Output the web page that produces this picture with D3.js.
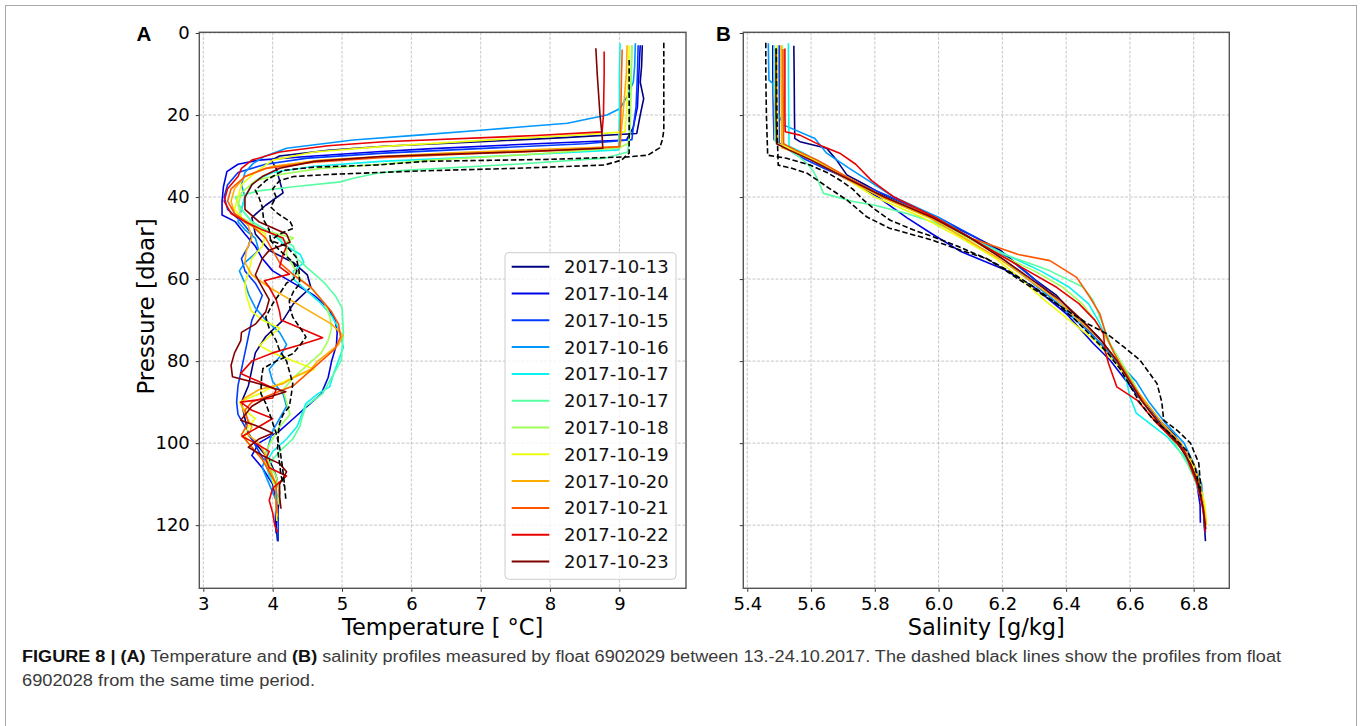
<!DOCTYPE html>
<html><head><meta charset="utf-8">
<script src="https://cdn.jsdelivr.net/npm/d3@7"></script>
<style>body{margin:0;background:#fff;} svg{display:block;}</style>
</head><body><svg id="fig" width="1360" height="726"></svg>
<script>
const dates = ["2017-10-13","2017-10-14","2017-10-15","2017-10-16","2017-10-17","2017-10-17","2017-10-18","2017-10-19","2017-10-20","2017-10-21","2017-10-22","2017-10-23"];
const lineColors = ["#000080","#0000e9","#003aff","#0097ff","#0bf4ec","#56ffa1","#a1ff56","#ecff0b","#ffad00","#ff5700","#e90000","#800000"];
const tempTicks = [3,4,5,6,7,8,9];
const salTicks = [5.4,5.6,5.8,6.0,6.2,6.4,6.6,6.8];
const presTicks = [0,20,40,60,80,100,120];

// Temperature profiles, float 6902029: [pressure dbar, temperature °C]
const temp1013 = [[3,9.33],[8,9.32],[12,9.3],[16,9.35],[20,9.3],[24.5,9.25],[25.5,8.2],[26.5,7.0],[27.6,5.6],[28.6,4.8],[30,4.1],[31,3.98],[33,4.05],[36,4.1],[39,4.15],[42,3.9],[45,3.7],[49,3.75],[53,3.95],[56,4.3],[59,4.5],[62,4.55],[66,4.3],[70,4.15],[74,3.9],[78,3.75],[82,3.7],[86,3.65],[90,3.55],[94,3.6],[98,3.65],[101,3.8],[104,3.95],[108,4.05],[112,4.1],[116,4.08],[120,4.05],[123.9,4.07]];
const temp1014 = [[3,9.3],[10,9.28],[18,9.26],[23,9.2],[26.1,9.1],[27,7.8],[28.2,6.3],[28.9,5.56],[30,4.6],[31,3.8],[32,3.5],[33.8,3.34],[37.5,3.29],[41,3.27],[44.4,3.27],[46,3.46],[49,3.6],[52,3.75],[55,3.85],[58,4.0],[61,4.3],[64,4.6],[67,4.8],[70,4.9],[73,4.93],[76,4.92],[80,4.85],[84,4.8],[88,4.7],[91,4.5],[94,4.3],[97,4.1],[100,3.8],[103,3.7],[106,3.85],[110,4.0],[114,4.05],[118,4.04],[122,4.05]];
const temp1015 = [[3,9.27],[10,9.26],[18,9.24],[23,9.2],[26,9.18],[27,8.5],[28,7.2],[29.3,5.6],[30.5,4.5],[32,3.9],[34,3.5],[37,3.35],[40,3.3],[43,3.35],[46,3.55],[49,3.7],[52,3.65],[55,3.55],[58,3.6],[61,3.75],[64,3.85],[67,3.78],[70,3.7],[74,3.65],[78,3.6],[82,3.55],[86,3.5],[90,3.48],[93,3.5],[96,3.6],[99,3.7],[102,3.8],[105,3.9],[109,4.0],[113,4.05],[117,4.08],[121,4.08],[124,4.08]];
const temp1016 = [[2.5,9.23],[8,9.22],[12,9.2],[15.5,9.11],[18.4,9.01],[20,8.82],[22,8.25],[23.7,7.0],[24.9,6.1],[26.1,5.16],[28.1,4.2],[30.2,3.87],[31.8,3.72],[34,3.6],[37,3.55],[40,3.6],[43,3.55],[46,3.5],[48,3.6],[50,3.75],[53,3.8],[56,3.6],[58,3.52],[61,3.6],[64,3.66],[67,3.75],[70,3.9],[73,4.1],[76,4.2],[79,4.1],[82,3.95],[85,4.0],[88,4.15],[91,4.2],[94,4.1],[97,4.0],[100,3.95],[103,3.9],[106,3.85],[110,3.95],[114,4.05],[117,4.05]];
const temp1017a = [[2.5,9.01],[10,9.0],[20,9.0],[26,8.99],[28.5,8.99],[29.8,7.5],[31.3,5.56],[32.5,4.6],[34,4.0],[35.5,3.8],[37,3.7],[40,3.6],[43,3.55],[46,3.7],[49,4.0],[52,4.2],[54,4.4],[56,4.45],[58,4.3],[60,4.3],[63,4.5],[66,4.7],[69,4.85],[72,4.95],[76.6,5.02],[79.8,4.95],[83,4.88],[86.3,4.82],[88,4.65],[90.3,4.48],[93,4.42],[96,4.35],[99,4.2],[102,4.0],[105,3.9],[108,3.95],[111,4.05],[114,4.08]];
const temp1017b = [[3,9.18],[10,9.17],[20,9.15],[26,9.14],[29,9.12],[30.5,8.8],[32,7.5],[33.5,5.9],[34.2,5.5],[35.5,5.15],[36.3,4.98],[37.5,4.3],[38.5,3.8],[40,3.46],[43,3.55],[46,3.7],[48,3.9],[50,4.1],[52,4.3],[55,4.35],[58,4.55],[61,4.75],[64,4.9],[67,5.0],[70,5.01],[73,5.02],[77,5.0],[79.8,4.99],[84,4.85],[87.9,4.72],[91,4.48],[94,4.42],[96,4.39],[99,4.29],[102,4.1],[105,3.95],[108,4.0],[111,4.05],[114,4.05]];
const temp1018 = [[3,9.18],[10,9.17],[20,9.16],[25,9.15],[27,9.12],[28,9.0],[29.5,7.8],[31,6.3],[32,5.56],[33,4.7],[34.5,4.1],[36,3.75],[39,3.55],[42,3.5],[45,3.55],[48,3.85],[50,4.3],[51,4.2],[54,4.2],[57,4.3],[60,4.4],[63,4.6],[66,4.75],[69,4.82],[72,4.85],[75,4.8],[78,4.7],[81,4.5],[84,4.3],[87,4.15],[90,4.2],[93,4.25],[96,4.1],[99,4.0],[102,3.9],[105,3.95],[108,4.05],[112,4.1],[115,4.08]];
const temp1019 = [[3,9.14],[10,9.13],[20,9.1],[24.1,9.08],[25,8.3],[26,7.2],[27.7,5.56],[29,4.6],[31,4.0],[34,3.75],[37,3.55],[40,3.5],[43,3.45],[46,3.6],[49,3.9],[52,3.85],[55,3.7],[58,3.66],[61,3.6],[64,3.62],[67.7,3.69],[70,3.85],[72,4.1],[74,3.95],[76.2,3.81],[78,4.0],[80,4.3],[82,4.6],[84,4.3],[85.5,4.1],[88,3.8],[90,3.52],[92,3.6],[94,3.75],[96,3.65],[98,3.6],[100,3.65],[103,3.8],[106,3.95],[109,4.0],[112,4.05],[116,4.05],[119,4.06]];
const temp1020 = [[3,9.11],[10,9.1],[20,9.05],[25,9.02],[27.7,9.01],[28.3,8.0],[29.3,6.5],[30.1,5.56],[31,4.7],[32.5,4.0],[35,3.6],[38,3.45],[41,3.4],[44,3.45],[47,3.65],[50,3.7],[53,3.62],[56,3.6],[59,3.7],[62,3.95],[65,4.25],[68,4.55],[71,4.85],[73.7,5.01],[76,4.95],[78,4.8],[80,4.65],[82,4.55],[84,4.3],[85.5,4.15],[87,3.8],[89,3.6],[90.3,3.54],[93,3.6],[96,3.7],[98,3.65],[100,3.8],[103,3.9],[106,3.95],[110,4.05],[114,4.05],[118,4.07]];
const temp1021 = [[4,9.04],[10,9.03],[20,9.02],[25,9.01],[27.7,9.0],[28.5,8.3],[29.5,6.8],[30.4,5.56],[31.5,4.6],[33,3.9],[35,3.6],[38,3.4],[41,3.35],[44,3.45],[47,3.7],[50,3.9],[53,4.0],[56,4.1],[59,4.3],[62,4.55],[65,4.7],[68,4.85],[71,4.95],[74,4.98],[77,4.9],[80,4.7],[83,4.5],[86,4.3],[88,4.0],[90,3.7],[92,3.6],[95,3.65],[98,3.55],[101,3.7],[104,3.85],[107,3.95],[110,4.05],[114,4.05],[117,4.06]];
const temp1022 = [[4.5,8.78],[10,8.78],[20,8.77],[24.1,8.75],[25,7.8],[26.5,5.6],[27.5,4.8],[29,4.1],[31,3.7],[33,3.55],[35,3.5],[38,3.35],[41,3.3],[44,3.4],[46,3.6],[48,3.85],[50,4.15],[52,4.2],[54,4.15],[57,4.1],[58.8,4.24],[60.4,3.88],[62,3.95],[65,4.05],[68,4.1],[70,4.12],[72,4.4],[74.3,4.72],[76,4.4],[78,4.0],[80,3.7],[83,3.54],[85,3.8],[87,4.05],[89,4.0],[90,3.54],[92,3.7],[94,4.0],[96,3.8],[98.4,3.56],[100,3.75],[102,3.95],[104,3.9],[106,3.95],[108,4.2],[111,4.0],[114,3.95],[117,4.0],[120,4.03],[121.8,4.07]];
const temp1023 = [[3.7,8.66],[10,8.68],[20,8.72],[25,8.75],[28.1,8.76],[29,7.5],[30.1,5.56],[31.3,4.6],[33,4.1],[35,3.85],[37,3.7],[40,3.6],[43,3.6],[46,3.8],[49,4.2],[51,4.25],[53,3.95],[55,3.85],[57,3.8],[59,3.75],[62,3.85],[65,3.95],[68,3.9],[71,3.75],[73,3.55],[75,3.54],[78,3.45],[81,3.4],[83.8,3.42],[85.5,3.8],[87.5,4.19],[89,3.9],[91,3.7],[94.4,3.54],[96,3.8],[97.6,4.0],[99,3.8],[101,3.65],[103,3.85],[105,4.1],[107,4.2],[110,4.1],[113,4.1],[116,4.12]];
// Temperature profiles, float 6902028 (dashed black)
const tempRefA = [[2.4,9.64],[10,9.64],[20,9.64],[23.7,9.64],[26,9.62],[28,9.58],[29.8,9.41],[30.2,9.12],[30.8,8.0],[31.3,6.2],[32.2,5.5],[32.7,4.6],[33.5,4.15],[35,4.0],[36,3.9],[38.3,3.75],[40,3.8],[42.4,3.85],[45.6,3.87],[48,3.95],[50.6,3.97],[52,4.2],[54.7,4.34],[58,4.38],[61.2,4.39],[63,4.3],[65.3,4.24],[67,4.25],[69.3,4.29],[72,4.4],[74.1,4.48],[76,4.4],[78.2,4.29],[80,4.05],[81.8,3.86],[84,3.84],[87.9,3.83],[90.3,3.9],[94,3.98],[97.6,4.05],[101,4.1],[105.7,4.14],[110,4.17],[113.8,4.19]];
const tempRefB = [[6.6,9.14],[15,9.14],[25,9.14],[29.3,9.14],[31,9.03],[32.2,8.78],[33,7.5],[33.6,6.2],[34,5.56],[34.5,4.8],[35,4.3],[36,4.1],[38,4.0],[40,4.05],[42.4,3.97],[44,4.07],[46,4.25],[47.6,4.3],[49,4.1],[50.6,3.97],[53,4.1],[56,4.3],[58,4.35],[60,4.3],[61,4.2],[63.6,4.1],[66,4.0],[69.3,3.9],[72,3.95],[75,4.05],[77.4,4.1],[80,4.2],[83,4.25],[85.5,4.29],[88,4.27],[91.1,4.24],[93,4.15],[95.2,4.1],[98,4.08],[101.6,4.07],[105,4.1],[108,4.12],[110.5,4.17]];

// Salinity profiles, float 6902029: [pressure dbar, salinity g/kg]
const sal1013 = [[3.1,5.546],[10,5.547],[20,5.548],[25.7,5.549],[26.5,5.565],[28.1,5.649],[31,5.68],[34.6,5.712],[37,5.77],[39.9,5.837],[43,5.93],[47.2,6.046],[50,6.12],[52.9,6.192],[56,6.24],[60,6.3],[64,6.37],[69,6.43],[74,6.5],[80,6.56],[86,6.6],[92,6.66],[98,6.74],[104,6.79],[110,6.815],[116,6.83],[123.9,6.837]];
const sal1014 = [[3,5.48],[10,5.48],[20,5.482],[26,5.484],[28,5.52],[30,5.58],[33,5.65],[36,5.72],[40,5.81],[45,5.9],[49,5.98],[53.3,6.07],[57.8,6.21],[62,6.3],[68.4,6.4],[75.7,6.485],[79.8,6.538],[86,6.6],[92,6.665],[98,6.73],[104,6.785],[110,6.81],[115,6.82],[119.4,6.821]];
const sal1015 = [[3,5.5],[10,5.5],[20,5.5],[27,5.5],[28.5,5.53],[30,5.56],[33,5.64],[36,5.73],[40,5.85],[45,6.0],[50,6.12],[55,6.22],[60,6.3],[65,6.37],[70,6.44],[75,6.5],[80,6.555],[85,6.6],[90,6.645],[95,6.7],[100,6.755],[105,6.795],[110,6.815],[116,6.83],[122,6.835]];
const sal1016 = [[2.5,5.466],[8,5.467],[11.5,5.468],[12.3,5.48],[18,5.487],[22.4,5.513],[25.7,5.612],[29.3,5.649],[33,5.72],[36,5.78],[40,5.86],[45,6.0],[50,6.1],[55,6.2],[60,6.28],[65,6.36],[70,6.43],[75,6.5],[80,6.56],[85,6.62],[90,6.66],[95,6.71],[100,6.77],[105,6.8],[110,6.825],[117,6.832]];
const sal1017a = [[2.5,5.529],[10,5.529],[20,5.53],[27.6,5.531],[29,5.57],[32,5.64],[36,5.73],[40,5.83],[45,5.99],[50,6.1],[54,6.21],[58,6.32],[62,6.41],[66,6.47],[70,6.5],[75,6.53],[80,6.565],[85,6.59],[88.7,6.6],[92.7,6.62],[98.4,6.716],[103.2,6.77],[108,6.8],[114,6.825],[117,6.83]];
const sal1017b = [[3,5.484],[10,5.484],[20,5.485],[26.1,5.486],[27,5.495],[28,5.52],[30,5.56],[32,5.59],[33.8,5.608],[36.5,5.625],[39.1,5.639],[41.1,5.732],[42,5.8],[44,5.9],[46,5.98],[49,6.07],[52,6.15],[53.9,6.202],[56,6.28],[58,6.349],[62,6.454],[65.3,6.485],[69.3,6.506],[72,6.52],[75.8,6.538],[80,6.57],[84,6.6],[88,6.63],[92,6.66],[96,6.7],[100,6.74],[105,6.78],[110,6.81],[115,6.83],[118,6.838]];
const sal1018 = [[3,5.51],[10,5.51],[20,5.51],[27,5.51],[28.5,5.54],[31,5.61],[35,5.7],[40,5.82],[45,5.97],[50,6.09],[54,6.19],[58,6.3],[62,6.39],[66,6.45],[70,6.49],[75,6.53],[80,6.57],[85,6.61],[90,6.64],[95,6.69],[100,6.75],[105,6.79],[110,6.815],[115,6.83],[120,6.84]];
const sal1019 = [[3,5.494],[10,5.494],[20,5.495],[27,5.496],[28.5,5.54],[31,5.61],[35,5.7],[40,5.8],[45,5.95],[50,6.07],[55,6.18],[60,6.26],[65,6.33],[70,6.41],[75,6.49],[80,6.55],[85,6.6],[90,6.64],[95,6.69],[100,6.75],[105,6.795],[110,6.82],[115,6.835],[119,6.84]];
const sal1020 = [[3,5.506],[10,5.506],[20,5.507],[28,5.508],[29,5.55],[32,5.63],[36,5.72],[40,5.82],[45,5.97],[50,6.08],[55,6.19],[60,6.28],[65,6.37],[70,6.44],[75,6.51],[80,6.56],[85,6.6],[90,6.65],[95,6.7],[100,6.76],[105,6.8],[110,6.82],[115,6.83],[120,6.84]];
const sal1021 = [[3.9,5.512],[10,5.512],[20,5.513],[27,5.514],[28.5,5.55],[31,5.62],[35,5.71],[40,5.83],[45,5.99],[50,6.1],[54,6.25],[55.5,6.349],[59.6,6.433],[64.5,6.475],[68.5,6.506],[74.1,6.527],[78,6.55],[82,6.58],[87,6.62],[92,6.66],[97,6.71],[102,6.77],[107,6.8],[112,6.82],[117,6.83]];
const sal1022 = [[3.8,5.518],[10,5.518],[20,5.518],[24.1,5.519],[24.9,5.565],[27.7,5.638],[29.3,5.69],[32,5.74],[36,5.79],[40,5.86],[45,5.99],[50,6.1],[54,6.19],[58,6.28],[62,6.37],[66,6.44],[70,6.49],[73.3,6.517],[77.4,6.522],[80.6,6.533],[86.3,6.559],[89.5,6.622],[95.2,6.685],[101.7,6.769],[109.8,6.81],[116,6.83],[121.8,6.837]];
const sal1023 = [[3.7,5.49],[10,5.49],[20,5.49],[27,5.492],[28.5,5.53],[31,5.6],[35,5.7],[40,5.83],[45,5.98],[50,6.1],[55,6.2],[60,6.29],[65,6.38],[70,6.45],[75,6.51],[80,6.56],[85,6.6],[90,6.64],[95,6.69],[100,6.75],[105,6.79],[110,6.815],[116,6.83],[121,6.838]];
// Salinity profiles, float 6902028 (dashed black)
const salRefA = [[2.4,5.458],[10,5.458],[20,5.46],[29.8,5.464],[30.5,5.52],[32.2,5.597],[34,5.65],[35.9,5.691],[38,5.73],[40.7,5.764],[43,5.8],[45.6,5.847],[48,5.92],[49.7,5.983],[52,6.06],[55,6.15],[57,6.192],[60,6.25],[64,6.33],[68,6.41],[71,6.47],[73.3,6.527],[76.5,6.58],[79.8,6.632],[85.5,6.685],[90,6.7],[94.4,6.706],[97,6.75],[100,6.79],[104.9,6.816],[109.7,6.821],[113,6.822]];
const salRefB = [[3.8,5.491],[15,5.492],[25,5.494],[32.2,5.497],[33,5.54],[34.2,5.588],[37.5,5.65],[40.7,5.712],[44.8,5.774],[47.6,5.846],[50.5,5.98],[53,6.07],[55,6.15],[58,6.22],[62,6.3],[66,6.37],[70,6.43],[74,6.48],[78,6.53],[82,6.57],[86,6.6],[90,6.63],[94,6.67],[98,6.73],[102,6.78],[106,6.805],[110,6.815],[112,6.82]];

const tempProfiles = [temp1013,temp1014,temp1015,temp1016,temp1017a,temp1017b,temp1018,temp1019,temp1020,temp1021,temp1022,temp1023];
const salProfiles = [sal1013,sal1014,sal1015,sal1016,sal1017a,sal1017b,sal1018,sal1019,sal1020,sal1021,sal1022,sal1023];
const tempRefs = [tempRefA,tempRefB];
const salRefs = [salRefA,salRefB];

const svg = d3.select("#fig");
const FONT = "'DejaVu Sans', sans-serif";

svg.append("rect").attr("x",5.5).attr("y",5.5).attr("width",1351).attr("height",740)
  .attr("fill","none").attr("stroke","#a8a8a8").attr("stroke-width",1);

const yP = d3.scaleLinear().domain([-0.17,135.4]).range([32.3,588.3]);
const xT = d3.scaleLinear().domain([2.942,9.96]).range([199.3,686]);
const xS = d3.scaleLinear().domain([5.3875,6.9117]).range([743.3,1229.3]);

function drawPanel(id, xs, xticks, fmt, profiles, refs, showY, xlabel, letter, letterX) {
  const g = svg.append("g");
  const [x0,x1] = xs.range(), [y0,y1] = yP.range();
  g.append("clipPath").attr("id","clip"+id).append("rect")
    .attr("x",x0).attr("y",y0).attr("width",x1-x0).attr("height",y1-y0);
  // grid
  g.append("g").selectAll("line").data(xticks).join("line")
    .attr("x1",d=>xs(d)).attr("x2",d=>xs(d)).attr("y1",y0).attr("y2",y1)
    .attr("stroke","#b8b8b8").attr("stroke-width",0.8).attr("stroke-dasharray","3,1.6");
  g.append("g").selectAll("line").data(presTicks).join("line")
    .attr("y1",d=>yP(d)).attr("y2",d=>yP(d)).attr("x1",x0).attr("x2",x1)
    .attr("stroke","#b8b8b8").attr("stroke-width",0.8).attr("stroke-dasharray","3,1.6");
  const line = d3.line().x(d=>xs(d[1])).y(d=>yP(d[0]));
  const lg = g.append("g").attr("clip-path","url(#clip"+id+")");
  lg.selectAll("path.prof").data(profiles).join("path").attr("class","prof")
    .attr("d",line).attr("fill","none").attr("stroke",(d,i)=>lineColors[i])
    .attr("stroke-width",1.6).attr("stroke-linejoin","round");
  lg.selectAll("path.ref").data(refs).join("path").attr("class","ref")
    .attr("d",line).attr("fill","none").attr("stroke","#000")
    .attr("stroke-width",1.6).attr("stroke-dasharray","5.5,2.6");
  // axes
  const ax = g.append("g").attr("transform",`translate(0,${y1})`)
    .call(d3.axisBottom(xs).tickValues(xticks).tickFormat(fmt).tickSize(3.5).tickPadding(5));
  const ay = g.append("g").attr("transform",`translate(${x0},0)`)
    .call(d3.axisLeft(yP).tickValues(presTicks).tickFormat(showY ? d3.format("d") : ()=>"").tickSize(3.5).tickPadding(6));
  [ax,ay].forEach(a=>{
    a.select(".domain").remove();
    a.selectAll("line").attr("stroke","#333").attr("stroke-width",1);
    a.selectAll("text").attr("font-family",FONT).attr("font-size",18).attr("fill","#000");
  });
  g.append("rect").attr("x",x0).attr("y",y0).attr("width",x1-x0).attr("height",y1-y0)
    .attr("fill","none").attr("stroke","#555").attr("stroke-width",1.4);
  g.append("text").attr("x",(x0+x1)/2).attr("y",634.5).attr("text-anchor","middle")
    .attr("font-family",FONT).attr("font-size",22.5).attr("fill","#000").text(xlabel);
  g.append("text").attr("x",letterX).attr("y",40.7).attr("font-family","'Liberation Sans', Arial, sans-serif")
    .attr("font-weight","bold").attr("font-size",20.5).attr("fill","#000").text(letter);
}

drawPanel("A", xT, tempTicks, d3.format("d"), tempProfiles, tempRefs, true, "Temperature [ \u00B0C]", "A", 136.5);
drawPanel("B", xS, salTicks, d3.format(".1f"), salProfiles, salRefs, false, "Salinity [g/kg]", "B", 716);

svg.append("text").attr("transform","translate(154,306.5) rotate(-90)").attr("text-anchor","middle")
  .attr("font-family",FONT).attr("font-size",23).attr("fill","#000").text("Pressure [dbar]");

// legend
const leg = svg.append("g");
leg.append("rect").attr("x",505).attr("y",252.7).attr("width",171).attr("height",326.6).attr("rx",4)
  .attr("fill","#fff").attr("fill-opacity",0.8).attr("stroke","#cccccc").attr("stroke-width",1);
const rows = leg.selectAll("g.row").data(dates).join("g").attr("class","row")
  .attr("transform",(d,i)=>`translate(0,${266.7 + i*26.8})`);
rows.append("line").attr("x1",511.7).attr("x2",549.3).attr("y1",0).attr("y2",0)
  .attr("stroke",(d,i)=>lineColors[i]).attr("stroke-width",2);
rows.append("text").attr("x",564).attr("y",0).attr("dy","0.36em")
  .attr("font-family",FONT).attr("font-size",18).attr("fill","#111").text(d=>d);

// caption
const CAP = "'Liberation Sans Narrow', 'Liberation Sans', Arial, sans-serif";
const c1 = svg.append("text").attr("x",22).attr("y",662).attr("font-family",CAP).attr("font-size",16)
  .attr("fill","#3a3a3a").attr("textLength",1259).attr("lengthAdjust","spacingAndGlyphs");
c1.append("tspan").attr("font-weight","bold").attr("fill","#111").text("FIGURE 8 | (A)");
c1.append("tspan").text(" Temperature and ");
c1.append("tspan").attr("font-weight","bold").attr("fill","#111").text("(B)");
c1.append("tspan").text(" salinity profiles measured by float 6902029 between 13.-24.10.2017. The dashed black lines show the profiles from float");
svg.append("text").attr("x",22).attr("y",686).attr("font-family",CAP).attr("font-size",16)
  .attr("fill","#3a3a3a").attr("textLength",293).attr("lengthAdjust","spacingAndGlyphs")
  .text("6902028 from the same time period.");
</script></body></html>
